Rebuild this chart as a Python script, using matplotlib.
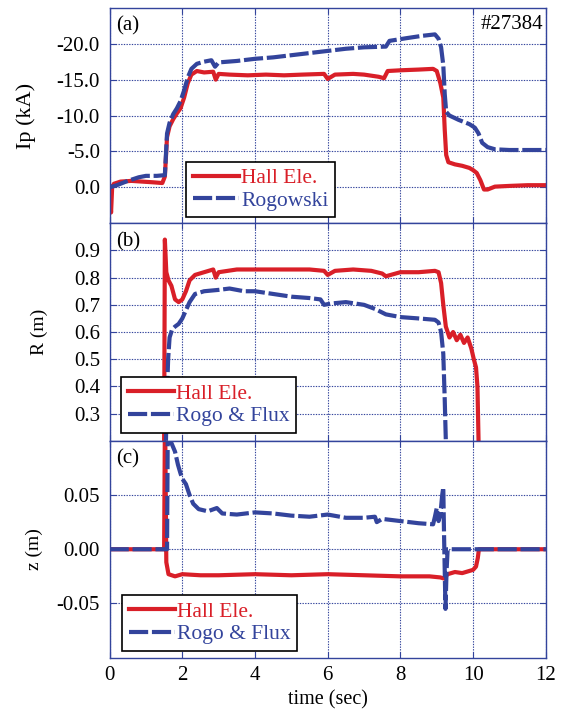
import matplotlib
matplotlib.use("Agg")
import matplotlib.pyplot as plt
import matplotlib.ticker as mticker

plt.rcParams['font.family'] = ['Liberation Serif', 'DejaVu Serif']
plt.rcParams['axes.unicode_minus'] = False

RED = '#d91f28'
BLUE = '#33449c'

# (a) plasma current, kA
ip_hall_t = [0.0, 0.04, 0.07, 0.12, 0.3, 0.6, 0.9, 1.2, 1.45, 1.52, 1.58, 1.65, 1.75, 1.85, 1.95, 2.05,
             2.15, 2.25, 2.4, 2.6, 2.85, 2.92, 3.0, 3.3, 3.8, 4.3, 4.8, 5.3, 5.9, 6.0, 6.2, 6.7, 7.0,
             7.4, 7.55, 7.65, 8.0, 8.5, 8.9, 9.0, 9.1, 9.18, 9.22, 9.26, 9.32, 9.5, 9.7, 9.9, 10.0,
             10.1, 10.2, 10.3, 10.4, 10.6, 11.0, 11.5, 12.0]
ip_hall = [-0.1, 3.5, 0.0, -0.5, -0.8, -0.9, -0.8, -0.7, -0.6, -1.5, -7.0, -8.5, -9.5, -10.3, -11.0, -12.5,
           -14.5, -15.7, -16.2, -16.0, -16.1, -15.0, -15.8, -15.7, -15.6, -15.7, -15.6, -15.7, -15.8, -15.1, -15.7, -15.8, -15.7,
           -15.4, -15.2, -16.2, -16.3, -16.4, -16.5, -16.2, -14.5, -12.5, -8.0, -4.5, -3.5, -3.2, -3.0, -2.7, -2.4,
           -2.0, -1.0, 0.3, 0.3, -0.1, -0.2, -0.3, -0.3]

ip_rogo_t = [0.0, 0.2, 0.5, 0.8, 1.0, 1.3, 1.52, 1.58, 1.65, 1.75, 1.85, 1.95, 2.05, 2.15, 2.25, 2.4,
             2.6, 2.8, 2.9, 3.0, 3.5, 4.0, 4.5, 5.0, 5.5, 6.0, 6.5, 7.0, 7.6, 7.7, 8.2, 8.6, 8.95,
             9.05, 9.12, 9.18, 9.22, 9.26, 9.35, 9.6, 9.9, 10.05, 10.15, 10.25, 10.4, 10.6, 11.0, 12.0]
ip_rogo = [0.0, -0.3, -0.9, -1.4, -1.6, -1.6, -1.7, -7.5, -9.0, -10.2, -11.0, -12.0, -13.5, -15.3, -16.5, -17.2,
           -17.5, -17.7, -16.8, -17.4, -17.6, -17.9, -18.1, -18.4, -18.7, -19.0, -19.3, -19.5, -19.6, -20.4, -20.8, -21.1, -21.3,
           -20.7, -19.5, -17.0, -13.0, -10.5, -10.0, -9.4, -8.8, -8.3, -7.5, -6.2, -5.6, -5.3, -5.2, -5.2]

# (b) major radius, m
r_hall_t = [1.5, 1.5, 1.52, 1.56, 1.62, 1.7, 1.8, 1.9, 2.0, 2.1, 2.2, 2.35, 2.6, 2.85, 2.92, 3.0,
            3.5, 4.0, 4.5, 5.0, 5.5, 5.9, 6.0, 6.2, 6.7, 7.2, 7.5, 7.6, 8.0, 8.5, 8.95, 9.05,
            9.12, 9.18, 9.25, 9.35, 9.45, 9.55, 9.65, 9.75, 9.85, 9.95, 10.02, 10.08, 10.12, 10.15]
r_hall = [0.2, 0.2, 0.94, 0.82, 0.79, 0.77, 0.72, 0.71, 0.72, 0.75, 0.79, 0.81, 0.82, 0.83, 0.80, 0.82,
          0.83, 0.83, 0.83, 0.83, 0.83, 0.825, 0.81, 0.825, 0.83, 0.825, 0.815, 0.805, 0.82, 0.82, 0.825, 0.82,
          0.78, 0.70, 0.62, 0.58, 0.60, 0.57, 0.59, 0.56, 0.58, 0.54, 0.50, 0.47, 0.40, 0.20]

r_flux_t = [1.55, 1.58, 1.61, 1.65, 1.72, 1.8, 1.9, 2.0, 2.1, 2.2, 2.35, 2.6, 3.0, 3.3, 3.7, 4.0,
            4.5, 5.0, 5.5, 5.8, 5.9, 6.1, 6.5, 7.0, 7.3, 7.6, 8.0, 8.5, 8.95, 9.05, 9.12, 9.18, 9.22, 9.25]
r_flux = [0.2, 0.38, 0.50, 0.58, 0.61, 0.62, 0.63, 0.65, 0.68, 0.71, 0.74, 0.75, 0.755, 0.76, 0.75, 0.75,
          0.74, 0.73, 0.725, 0.72, 0.70, 0.705, 0.71, 0.70, 0.685, 0.665, 0.655, 0.65, 0.645, 0.635, 0.60, 0.52, 0.35, 0.2]

# (c) vertical position, m
z_hall_t = [0.0, 1.5, 1.52, 1.53, 1.56, 1.62, 1.8, 2.0, 2.5, 3.0, 4.0, 5.0, 6.0, 7.0, 8.0, 8.8, 9.1, 9.2,
            9.3, 9.5, 9.7, 9.9, 10.0, 10.08, 10.13, 10.16, 11.0, 12.0]
z_hall = [0.0, 0.0, 0.11, 0.11, -0.012, -0.023, -0.025, -0.023, -0.024, -0.024, -0.023, -0.024, -0.023, -0.024, -0.025, -0.025, -0.026, -0.027,
          -0.023, -0.021, -0.022, -0.020, -0.019, -0.016, -0.008, 0.0, 0.0, 0.0]

z_flux_t = [0.0, 1.58, 1.6, 1.62, 1.7, 1.8, 1.88, 1.95, 2.0, 2.1, 2.2, 2.3, 2.45, 2.7, 2.95, 3.1,
            3.5, 4.0, 4.5, 5.0, 5.5, 6.0, 6.5, 7.0, 7.3, 7.35, 7.5, 8.0, 8.5, 8.9, 8.95, 9.0,
            9.05, 9.1, 9.15, 9.18, 9.2, 9.24, 9.27, 9.3, 12.0]
z_flux = [0.0, 0.0, 0.11, 0.1, 0.098, 0.09, 0.078, 0.07, 0.065, 0.06, 0.05, 0.042, 0.037, 0.035, 0.038, 0.033,
          0.032, 0.034, 0.033, 0.031, 0.030, 0.032, 0.029, 0.029, 0.030, 0.025, 0.028, 0.026, 0.024, 0.023, 0.030, 0.038,
          0.026, 0.032, 0.050, 0.057, 0.015, -0.055, -0.02, 0.0, 0.0]

LW = 3.0
DASH = (4.6, 0.9)

fig = plt.figure(figsize=(5.65, 7.11), dpi=100)
left, width = 0.194, 0.772
ax_a = fig.add_axes([left, 0.686, width, 0.303])
ax_b = fig.add_axes([left, 0.380, width, 0.306])
ax_c = fig.add_axes([left, 0.075, width, 0.305])

ax_a.plot(ip_hall_t, ip_hall, color=RED, lw=LW, label='Hall Ele.')
ax_a.plot(ip_rogo_t, ip_rogo, color=BLUE, lw=LW, dashes=DASH, label='Rogowski')
ax_a.set_ylim(5, -25)
ax_a.set_yticks([-20, -15, -10, -5, 0])
ax_a.yaxis.set_major_formatter(mticker.FormatStrFormatter('%.1f'))
ax_a.set_ylabel('Ip (kA)', fontsize=16)
ax_a.yaxis.set_label_coords(-0.169, 0.5)

ax_b.plot(r_hall_t, r_hall, color=RED, lw=LW, label='Hall Ele.')
ax_b.plot(r_flux_t, r_flux, color=BLUE, lw=LW, dashes=DASH, label='Rogo & Flux')
ax_b.set_ylim(0.2, 1.0)
ax_b.set_yticks([0.3, 0.4, 0.5, 0.6, 0.7, 0.8, 0.9])
ax_b.yaxis.set_major_formatter(mticker.FormatStrFormatter('%.1f'))
ax_b.set_ylabel('R (m)', fontsize=14)
ax_b.yaxis.set_label_coords(-0.142, 0.5)

ax_c.plot(z_hall_t, z_hall, color=RED, lw=LW, label='Hall Ele.')
ax_c.plot(z_flux_t, z_flux, color=BLUE, lw=LW, dashes=DASH, label='Rogo & Flux')
ax_c.set_ylim(-0.1, 0.1)
ax_c.set_yticks([-0.05, 0.0, 0.05])
ax_c.yaxis.set_major_formatter(mticker.FormatStrFormatter('%.2f'))
ax_c.set_ylabel('z (m)', fontsize=14)
ax_c.yaxis.set_label_coords(-0.153, 0.5)
ax_c.set_xlabel('time (sec)', fontsize=14.5)
ax_c.xaxis.set_label_coords(0.5, -0.148)

legend_pos = {ax_a: (0.176, 0.028), ax_b: (0.027, 0.037), ax_c: (0.029, 0.032)}
for ax, tag in [(ax_a, '(a)'), (ax_b, '(b)'), (ax_c, '(c)')]:
    ax.set_xlim(0, 12)
    ax.set_xticks(range(0, 13, 2))
    ax.grid(True, color=BLUE, linestyle=(0, (1.2, 1.2)), linewidth=0.8)
    ax.tick_params(direction='in', colors=BLUE, labelcolor='black', labelsize=15,
                   top=True, right=True, length=4)
    ax.tick_params(axis='y', pad=7)
    ax.tick_params(axis='x', pad=6)
    for s in ax.spines.values():
        s.set_color(BLUE)
        s.set_linewidth(1.0)
    if ax is not ax_c:
        ax.tick_params(labelbottom=False)
    ax.text(0.015, 0.96, tag, transform=ax.transAxes, fontsize=15, va='top', ha='left')
    leg = ax.legend(loc='lower left', bbox_to_anchor=legend_pos[ax], fontsize=15.5,
                    labelcolor='linecolor', fancybox=False, framealpha=1, edgecolor='black',
                    handlelength=2.15, handletextpad=0.1, borderpad=0.3, labelspacing=0.12,
                    borderaxespad=0)
    leg.get_frame().set_linewidth(1.2)

ax_a.text(0.995, 0.965, '#27384', transform=ax_a.transAxes, fontsize=15, va='top', ha='right')

fig.savefig('out.png', dpi=100)
